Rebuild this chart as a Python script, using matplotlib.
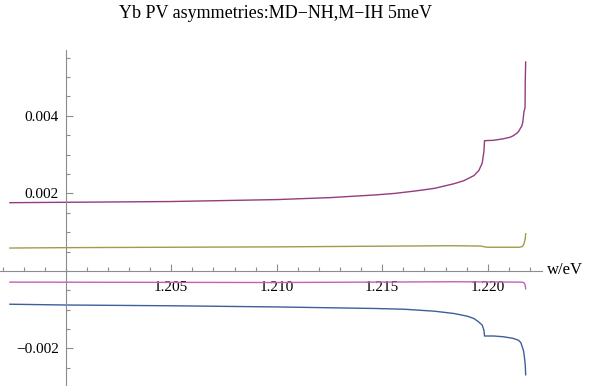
import matplotlib
matplotlib.use("Agg")
from matplotlib import pyplot as plt
from matplotlib.ticker import MultipleLocator, FixedLocator

# photon energy (eV) and the four asymmetry curves
w_top = [1.19735, 1.2, 1.205, 1.21, 1.2125, 1.21467, 1.2156, 1.21654, 1.21748,
         1.21841, 1.21888, 1.21935, 1.21958, 1.21974, 1.21982, 1.21985, 1.22029,
         1.22075, 1.22107, 1.22122, 1.22138, 1.22148, 1.22154, 1.22161, 1.22166,
         1.22169, 1.22172, 1.22177, 1.22178, 1.2218]
a_top = [0.00176, 0.00177, 0.00179, 0.00184, 0.00189, 0.00196, 0.00200, 0.00206,
         0.00213, 0.00225, 0.00233, 0.00246, 0.00259, 0.00278, 0.00308, 0.00336,
         0.00337, 0.00341, 0.00345, 0.00349, 0.00355, 0.00361, 0.00367, 0.00373,
         0.00383, 0.00396, 0.00411, 0.00421, 0.00488, 0.00539]

w_olive = [1.19735, 1.2, 1.21, 1.2184, 1.2197, 1.21985, 1.2200, 1.2215, 1.22165,
           1.22172, 1.22178, 1.2218]
a_olive = [0.00059, 0.00060, 0.00062, 0.00065, 0.00064, 0.00062, 0.00061, 0.00061,
           0.00063, 0.00070, 0.00083, 0.00096]

w_pink = [1.19735, 1.21, 1.2184, 1.2216, 1.2217, 1.22175, 1.22178, 1.2218]
a_pink = [-0.00029, -0.00030, -0.00028, -0.00029, -0.00030, -0.00033, -0.00038,
          -0.00046]

w_blue = [1.19735, 1.2, 1.205, 1.21, 1.21467, 1.21607, 1.21748, 1.21841, 1.21904,
          1.21935, 1.21958, 1.21974, 1.21982, 1.21985, 1.22029, 1.22075, 1.2212,
          1.22146, 1.22157, 1.22164, 1.2217, 1.22174, 1.22178, 1.2218]
a_blue = [-0.00086, -0.00088, -0.00090, -0.00093, -0.00097, -0.00099, -0.00104,
          -0.00110, -0.00117, -0.00123, -0.00132, -0.00140, -0.00153, -0.00168,
          -0.00168, -0.00170, -0.00174, -0.00179, -0.00185, -0.00196, -0.00207,
          -0.00222, -0.00243, -0.00268]

x_major = [1.205, 1.210, 1.215, 1.220]
x_labels = ["1.205", "1.210", "1.215", "1.220"]
y_major = [-0.002, 0.002, 0.004]
y_labels = ["\u22120.002", "0.002", "0.004"]

plt.rcParams["font.family"] = ["Liberation Serif", "DejaVu Serif"]

fig = plt.figure(figsize=(5.89, 3.86), dpi=100)
ax = fig.add_axes([0.0, 0.0, 0.9197, 0.8705])

ax.plot(w_top, a_top, color="#943c7d", linewidth=1.0)
ax.plot(w_olive, a_olive, color="#a39b4c", linewidth=1.0)
ax.plot(w_pink, a_pink, color="#c462b2", linewidth=1.0)
ax.plot(w_blue, a_blue, color="#3d5f9a", linewidth=1.0)

ax.set_xlim(1.19688, 1.22256)
ax.set_ylim(-0.00297, 0.0057)

for s in ["top", "right"]:
    ax.spines[s].set_visible(False)
ax.spines["left"].set_position(("data", 1.2))
ax.spines["bottom"].set_position(("data", 0.0))
for s in ["left", "bottom"]:
    ax.spines[s].set_color("#8c8c8c")
    ax.spines[s].set_linewidth(0.8)

ax.xaxis.set_major_locator(FixedLocator(x_major))
ax.set_xticklabels(x_labels)
ax.xaxis.set_minor_locator(MultipleLocator(0.001))
ax.yaxis.set_major_locator(FixedLocator(y_major))
ax.set_yticklabels(y_labels)
ax.yaxis.set_minor_locator(MultipleLocator(0.0005))

ax.tick_params(which="both", direction="in", color="#8c8c8c", width=0.8,
               labelsize=11)
ax.tick_params(which="major", length=5)
ax.tick_params(which="minor", length=3)
ax.tick_params(axis="x", which="major", pad=7)
ax.tick_params(axis="y", which="major", pad=5)
ax.patch.set_alpha(0)

fig.text(0.928, 0.3, "w/eV", fontsize=12, ha="left", va="center")
fig.text(0.467, 0.966, "Yb PV asymmetries:MD\u2212NH,M\u2212IH 5meV", fontsize=13,
         ha="center", va="center")

fig.savefig("out.png", dpi=100)
